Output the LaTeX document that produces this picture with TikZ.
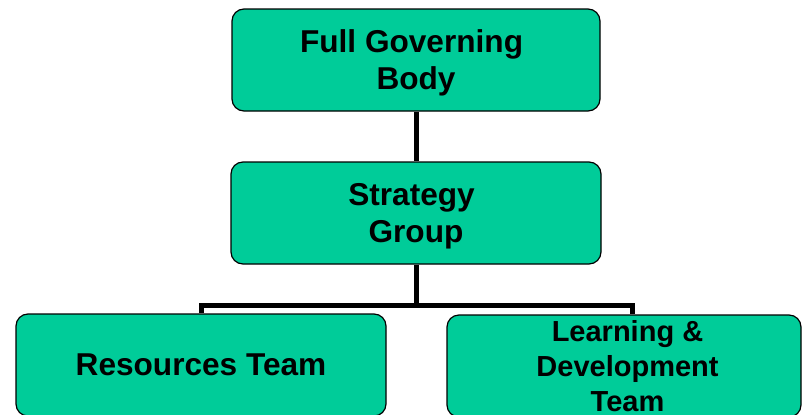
\documentclass[tikz,border=0pt]{standalone}
\usepackage{fontspec}
\setmainfont{Liberation Sans}
\definecolor{boxgreen}{RGB}{0,204,153}

\begin{document}
\begin{tikzpicture}[x=1pt,y=1pt,
		box/.style={draw=black, line width=1.2pt, fill=boxgreen, rounded corners=12pt, align=center, inner sep=0pt, text depth=0pt, minimum height=102pt, font=\bfseries\fontsize{31.6}{37}\selectfont},
		link/.style={line width=5pt}]
		\useasboundingbox (0,0) rectangle (806,-415);
		\clip (0,0) rectangle (806,-415);
		\node[box, minimum width=368pt] (fgb) at (416,-60) {Full Governing\hspace*{.28em}\\Body};
		\node[box, minimum width=370pt] (sg) at (416,-213) {Strategy\hspace*{.28em}\\Group};
		\node[box, minimum width=370pt] (rt) at (201,-365) {Resources Team};
		\node[box, minimum width=354pt, font=\bfseries\fontsize{29}{35}\selectfont] (ld) at (624,-366) {\hspace*{7pt}Learning \&\\\hspace*{7pt}Development\\\hspace*{7pt}Team};
		\coordinate (fork) at (416,-305);
		\draw[link] (fgb.south) -- (sg.north);
		\draw[link] (sg.south) -- (fork);
		\draw[link] (rt.north) |- (fork) -| ([xshift=8pt]ld.north);
	\end{tikzpicture}
\end{document}
